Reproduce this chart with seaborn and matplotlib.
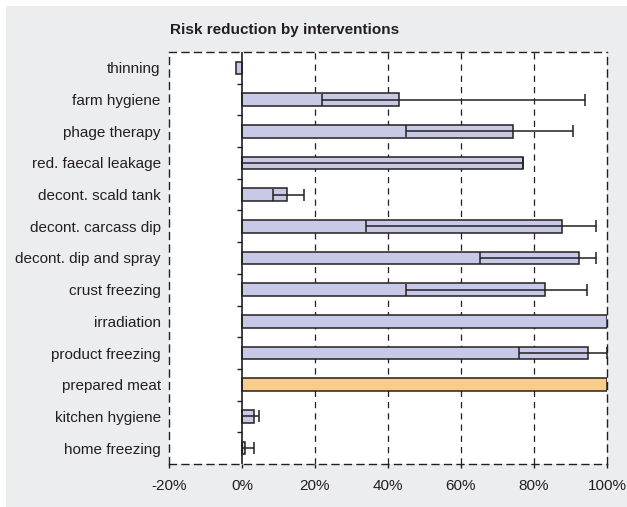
import numpy as np
import pandas as pd
import seaborn as sns
import matplotlib
matplotlib.use('AGG')
import matplotlib.pyplot as plt
from matplotlib.patches import Rectangle
from matplotlib.ticker import FuncFormatter

# Data (percent risk reduction)
categories = ['thinning', 'farm hygiene', 'phage therapy', 'red. faecal leakage',
              'decont. scald tank', 'decont. carcass dip', 'decont. dip and spray',
              'crust freezing', 'irradiation', 'product freezing', 'prepared meat',
              'kitchen hygiene', 'home freezing']
values = [-1.7, 43, 74.3, 77, 12.2, 87.8, 92.2, 83.1, 100, 94.9, 100, 3.3, 0.8]
err_low = [np.nan, 22, 44.8, 0, 8.6, 33.9, 65.2, 44.8, np.nan, 75.9, np.nan, 0, 0]
err_high = [np.nan, 94, 90.8, 77, 17, 97, 97, 94.5, np.nan, 100, np.nan, 4.7, 3.3]
highlight = 'prepared meat'

df = pd.DataFrame({'category': categories, 'value': values})

sns.set_style("white")
plt.rcParams['font.family'] = ['Liberation Sans', 'DejaVu Sans']

ink = '#231f20'
fig = plt.figure(figsize=(6.27, 5.07), dpi=100, facecolor='white')
fig.patches.append(Rectangle((6 / 627, 0), 1, 1 - 6 / 507, transform=fig.transFigure,
                             facecolor='#ecedef', edgecolor='none', zorder=-10))
ax = fig.add_axes([169 / 627, 43 / 507, 438 / 627, 412 / 507])
ax.set_facecolor('white')

palette = {c: ('#f8cd8c' if c == highlight else '#c8c9e6') for c in categories}
sns.barplot(data=df, x='value', y='category', hue='category', palette=palette,
            orient='h', width=0.4, edgecolor=ink, linewidth=1.1, legend=False,
            saturation=1, ax=ax, zorder=3)

# error bars
ypos = np.arange(len(categories))
vals = np.array(values)
lo = np.array(err_low)
hi = np.array(err_high)
mask = ~np.isnan(lo)
ax.errorbar(vals[mask], ypos[mask], xerr=[vals[mask] - lo[mask], hi[mask] - vals[mask]],
            fmt='none', ecolor=ink, elinewidth=1.1, capsize=4.5, capthick=1.1, zorder=4)

ax.set_xlim(-20, 100)
ax.set_ylim(len(categories) - 0.5, -0.5)
ax.set_xticks([-20, 0, 20, 40, 60, 80, 100])
ax.xaxis.set_major_formatter(FuncFormatter(lambda v, p: f'{v:.0f}%'))
ax.set_xlabel('')
ax.set_ylabel('')

# dashed grid and frame
for gx in [20, 40, 60, 80]:
    ax.axvline(gx, color=ink, linestyle=(0, (5, 4)), linewidth=0.9, zorder=1)
for s in ax.spines.values():
    s.set_linestyle((0, (5, 4)))
    s.set_color(ink)
    s.set_linewidth(1.0)

# solid zero line with small category ticks
ax.axvline(0, color=ink, linewidth=1.2, zorder=5)
bounds = np.arange(len(categories) - 1) + 0.5
ax.hlines(bounds, -1.4, 0, color=ink, linewidth=1.0, zorder=5)

ax.tick_params(axis='y', length=0, pad=6, labelsize=11, labelcolor=ink)
ax.tick_params(axis='x', length=3, width=1, color=ink, pad=8, labelsize=11,
               labelcolor=ink, direction='out', bottom=True)

fig.text(170 / 627, 1 - 30 / 507, 'Risk reduction by interventions', fontsize=11,
         fontweight='bold', color=ink, ha='left', va='center')

plt.savefig('out.png', dpi=100, facecolor=fig.get_facecolor())
